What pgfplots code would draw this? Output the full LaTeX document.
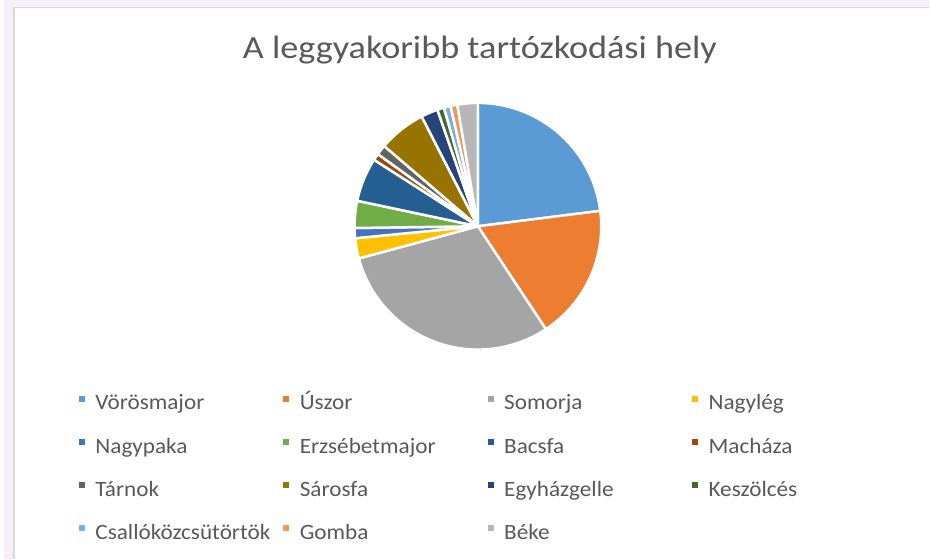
\documentclass[border=0pt]{standalone}
\usepackage{fontspec}
\setmainfont{Carlito}
\usepackage{pgfplots}
\usepackage{pgfplotstable}
\pgfplotsset{compat=1.18}
\definecolor{c1}{HTML}{5B9BD5}
\definecolor{c2}{HTML}{ED7D31}
\definecolor{c3}{HTML}{A5A5A5}
\definecolor{c4}{HTML}{FFC000}
\definecolor{c5}{HTML}{4472C4}
\definecolor{c6}{HTML}{70AD47}
\definecolor{c7}{HTML}{255E91}
\definecolor{c8}{HTML}{9E480E}
\definecolor{c9}{HTML}{636363}
\definecolor{c10}{HTML}{997300}
\definecolor{c11}{HTML}{264478}
\definecolor{c12}{HTML}{43682B}
\definecolor{c13}{HTML}{7CAFDD}
\definecolor{c14}{HTML}{F1975A}
\definecolor{c15}{HTML}{B7B7B7}
\definecolor{txt}{HTML}{595959}
\definecolor{lav}{HTML}{F5EFFA}
\definecolor{bord}{HTML}{D9D9D9}

\pgfplotstableread[col sep=comma]{
name,value,col
Vörösmajor,52,c1
Úszor,40,c2
Somorja,68,c3
Nagylég,6,c4
Nagypaka,3,c5
Erzsébetmajor,8,c6
Bacsfa,13,c7
Macháza,2,c8
Tárnok,3,c9
Sárosfa,14,c10
Egyházgelle,5,c11
Keszölcés,2,c12
Csallóközcsütörtök,2,c13
Gomba,2,c14
Béke,6,c15
}\piedata

\begin{document}
\def\total{0}
\pgfplotsforeachungrouped \i in {0,...,14}{%
  \pgfplotstablegetelem{\i}{value}\of\piedata
  \pgfmathsetmacro\total{\total+\pgfplotsretval}}
\begin{tikzpicture}
\begin{axis}[
  scale only axis, width=930bp, height=562bp,
  xmin=0, xmax=930, ymin=0, ymax=562,
  hide axis, clip=false,
  legend columns=4,
  legend style={at={(0.0806,0.2932)}, anchor=north west, draw=none, fill=none,
    inner sep=0pt, outer sep=0pt,
    font=\fontsize{22bp}{26bp}\selectfont, text=txt,
    /tikz/row sep=23.3bp, /tikz/column sep=0pt,
    /tikz/every odd column/.style={column sep=10.5bp},
    nodes={inner sep=0pt, text height=15bp, text depth=5bp}},
  legend image code/.code={\fill[#1, draw=none] (0bp,3bp) rectangle (6bp,9bp);},
]
\fill[lav] (axis cs:0,0) rectangle (axis cs:930,562);
\fill[white] (axis cs:10,0) rectangle (axis cs:930,554);
\draw[bord, line width=1.2bp] (axis cs:9.5,0) -- (axis cs:9.5,554.5) -- (axis cs:930,554.5);
\node[font=\fontsize{32.5bp}{38bp}\selectfont, text=txt, anchor=base] at (axis cs:478,503) {\scalebox{1.12}[1]{A leggyakoribb tartózkodási hely}};
\def\cum{0}
\pgfplotsforeachungrouped \i in {0,...,14}{%
  \pgfplotstablegetelem{\i}{value}\of\piedata \let\v\pgfplotsretval
  \pgfplotstablegetelem{\i}{col}\of\piedata \let\c\pgfplotsretval
  \pgfplotstablegetelem{\i}{name}\of\piedata \let\n\pgfplotsretval
  \pgfmathsetmacro\a{\cum}
  \pgfmathsetmacro\b{\cum+\v/\total*360}
  \edef\temp{\noexpand\addplot[fill=\c, draw=white, line width=2.5bp, line join=round,
      domain=\a:\b, samples=60, variable=\noexpand\t]
      ({476+124*sin(\noexpand\t)},{334.5+124*cos(\noexpand\t)}) -- (axis cs:476,334.5) -- cycle;
    \noexpand\addlegendentry{\noexpand\makebox[189bp][l]{\noexpand\scalebox{1.06}[1]{\n}}}}%
  \temp
  \global\let\cum\b
}
\end{axis}
\end{tikzpicture}
\end{document}
